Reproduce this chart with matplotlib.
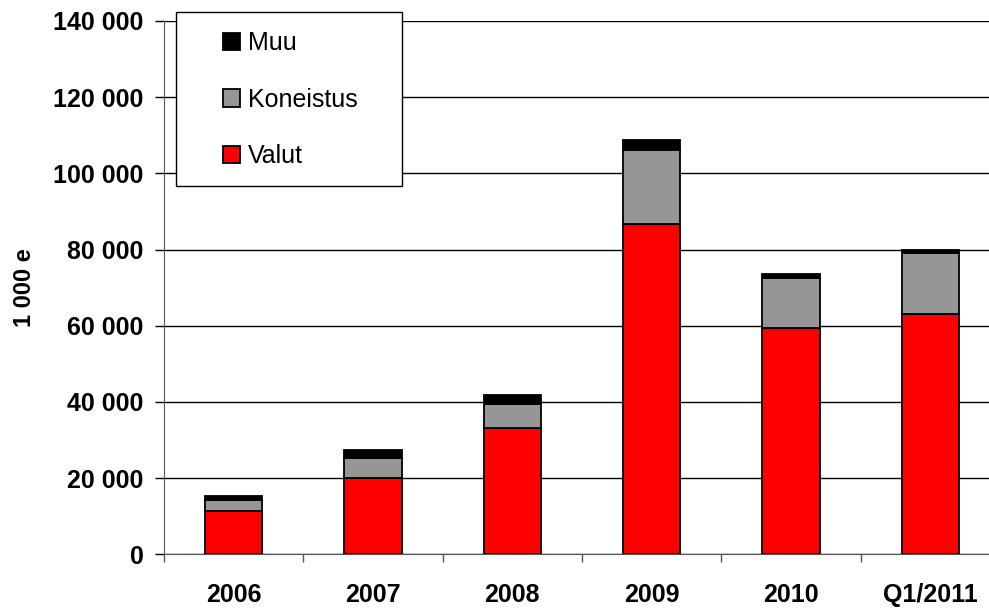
import numpy as np
import matplotlib.pyplot as plt
from matplotlib.patches import Rectangle

plt.rcParams['font.family'] = ['Liberation Sans', 'DejaVu Sans']

categories = ['2006', '2007', '2008', '2009', '2010', 'Q1/2011']
valut = [11300, 19900, 33100, 86700, 59400, 63100]
koneistus = [2900, 5300, 6300, 19500, 13100, 16000]
muu = [1200, 2100, 2500, 2600, 1100, 700]

W, H = 989, 608
fig = plt.figure(figsize=(W / 100, H / 100), dpi=100)
ax = fig.add_axes([164 / W, 1 - 554.3 / H, 836 / W, 533.3 / H])

x = np.arange(len(categories))
w = 0.41
b1 = ax.bar(x, valut, w, color='#ff0000', edgecolor='black', linewidth=1.3, zorder=3)
b2 = ax.bar(x, koneistus, w, bottom=valut, color='#969696', edgecolor='black', linewidth=1.3, zorder=3)
bottom2 = np.array(valut) + np.array(koneistus)
b3 = ax.bar(x, muu, w, bottom=bottom2, color='black', edgecolor='black', linewidth=1.3, zorder=3)

ax.set_xlim(-0.5, len(categories) - 0.5)
ax.set_ylim(0, 140000)
yt = list(range(0, 140001, 20000))
ax.set_yticks(yt)
ax.set_yticklabels(['{:,}'.format(v).replace(',', ' ') for v in yt], fontsize=18, fontweight='bold')
ax.yaxis.grid(True, color='black', linewidth=1, zorder=0)
ax.set_axisbelow(True)

ax.set_xticks(x)
ax.set_xticklabels(categories, fontsize=18, fontweight='bold')
ax.tick_params(axis='x', length=0, pad=21)
ax.set_xticks(np.arange(-0.5, len(categories), 1), minor=True)
ax.tick_params(axis='x', which='minor', length=6, direction='out', width=1, color='#555555')
ax.tick_params(axis='y', length=6.5, direction='out', width=1, pad=8)

for s in ['top', 'right']:
    ax.spines[s].set_visible(False)
ax.spines['left'].set_color('#555555')
ax.spines['bottom'].set_color('#555555')

ax.set_ylabel('1 000 e', fontsize=17, fontweight='bold', labelpad=12.5)

# legend frame drawn separately so the side padding can differ from the top/bottom
frame = Rectangle((176 / W, 1 - 185.7 / H), 226 / W, 173.4 / H, transform=fig.transFigure,
                  facecolor='white', edgecolor='black', linewidth=1, zorder=4)
fig.patches.append(frame)
leg = fig.legend([b3, b2, b1], ['Muu', 'Koneistus', 'Valut'], loc='upper left',
                 bbox_to_anchor=(223.3 / W, 1 - 31.2 / H), frameon=False,
                 fontsize=18, handlelength=0.68, handleheight=0.68, handletextpad=0.32,
                 labelspacing=1.3, borderpad=0, borderaxespad=0)
leg.set_zorder(5)

fig.savefig('out.png', dpi=100)
